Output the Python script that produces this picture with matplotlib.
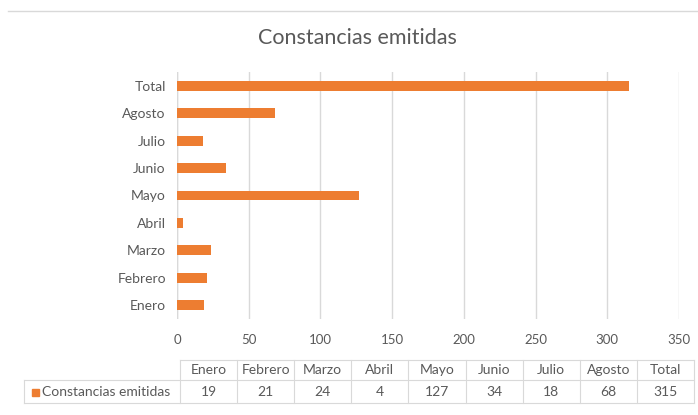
import numpy as np
import matplotlib
matplotlib.use("Agg")
import matplotlib.pyplot as plt
from matplotlib.lines import Line2D
from matplotlib.patches import Rectangle

plt.rcParams["font.family"] = ["Lato", "DejaVu Sans"]

# data
months = ["Enero", "Febrero", "Marzo", "Abril", "Mayo", "Junio", "Julio", "Agosto", "Total"]
values = [19, 21, 24, 4, 127, 34, 18, 68, 315]
series_name = "Constancias emitidas"
xticks = [0, 50, 100, 150, 200, 250, 300, 350]

ORANGE = "#ED7D31"
TXT = "#595959"
GRID = "#D9D9D9"
W, H = 698, 415

fig = plt.figure(figsize=(W / 100, H / 100), dpi=100)


def px(x0, y0, x1, y1):
    # pixel box (top-left origin) -> figure fraction rect
    return [x0 / W, 1 - y1 / H, (x1 - x0) / W, (y1 - y0) / H]


# chart border line at the top
fig.add_artist(Line2D([8 / W, 1], [1 - 11 / H, 1 - 11 / H], color=GRID, lw=1))

ax = fig.add_axes(px(177, 72, 679, 319))
y = np.arange(len(months))
ax.barh(y, values, height=0.36, color=ORANGE, zorder=3)
ax.set_xlim(0, 350)
ax.set_ylim(-0.5, len(months) - 0.5)
ax.set_yticks(y)
ax.set_yticklabels(months, fontsize=10, color=TXT)
ax.set_xticks(xticks)
ax.set_xticklabels([])
ax.tick_params(length=0, pad=8)
ax.grid(axis="x", color=GRID, lw=1, zorder=0)
for s in ax.spines.values():
    s.set_visible(False)
ax.axvline(0, color=GRID, lw=1, zorder=1)

fig.text(357 / W, 1 - 38 / H, series_name, ha="center", va="center",
         fontsize=15.5, color=TXT)

# table area in pixel coordinates
tax = fig.add_axes([0, 0, 1, 1])
tax.set_xlim(0, W)
tax.set_ylim(H, 0)
tax.axis("off")

# x tick labels (aligned with the plot axis)
x0, x1 = 177, 679
for t in xticks:
    tax.text(x0 + (x1 - x0) * t / 350, 340, str(t), ha="center", va="center",
             fontsize=9.5, color=TXT)

col_left, col_w = 180, 57.1
top, mid, bot = 360, 380, 403
lab_left = 24
n = len(months)
right = col_left + n * col_w
bc = "#D9D9D9"
tax.plot([col_left, right], [top, top], color=bc, lw=0.8)
tax.plot([lab_left, right], [mid, mid], color=bc, lw=0.8)
tax.plot([lab_left, right], [bot, bot], color=bc, lw=0.8)
tax.plot([lab_left, lab_left], [mid, bot], color=bc, lw=0.8)
for i in range(n + 1):
    xx = col_left + i * col_w
    tax.plot([xx, xx], [top, bot], color=bc, lw=0.8)
for i, (m, v) in enumerate(zip(months, values)):
    cx = col_left + (i + 0.5) * col_w
    tax.text(cx, (top + mid) / 2, m, ha="center", va="center", fontsize=10, color=TXT)
    tax.text(cx, (mid + bot) / 2, str(v), ha="center", va="center", fontsize=10, color=TXT)
tax.add_patch(Rectangle((32, 388.5), 7, 7, color=ORANGE))
tax.text(42, (mid + bot) / 2, series_name, ha="left", va="center", fontsize=10, color=TXT)

fig.savefig("out.png", dpi=100)
